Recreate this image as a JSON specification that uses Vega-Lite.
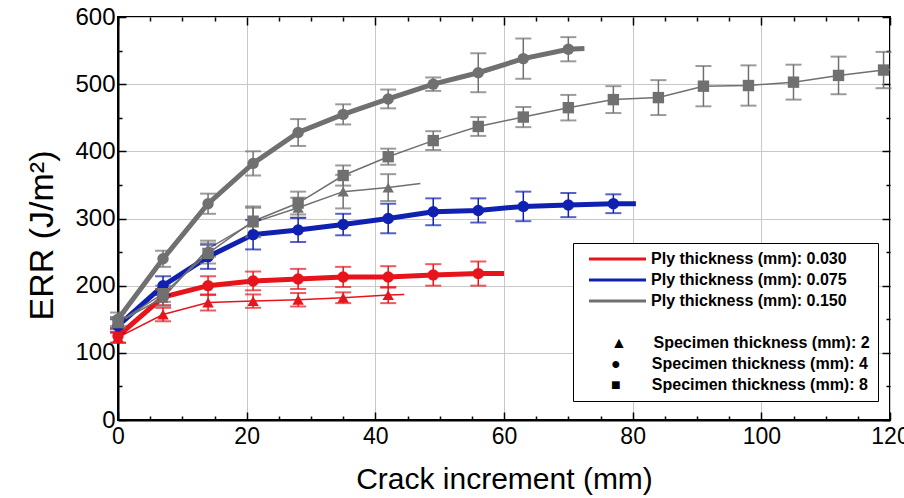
{
  "$schema": "https://vega.github.io/schema/vega-lite/v6.json",
  "width": 772,
  "height": 403,
  "autosize": {"type": "none"},
  "padding": {"left": 118, "top": 17, "right": 14, "bottom": 78},
  "background": "white",
  "config": {
    "view": {"stroke": "black", "strokeWidth": 2},
    "font": "Liberation Sans",
    "axis": {"gridColor": "#c8c8c8", "gridWidth": 1, "domainColor": "black", "domainWidth": 2, "tickColor": "black", "tickWidth": 1.5, "labelColor": "black", "titleColor": "black", "titleFontWeight": "normal", "labelFont": "Liberation Sans", "titleFont": "Liberation Sans"}
  },
  "data": {
    "values": [
      {"ply": "0.030", "spec": "4", "x": 0, "y": 125, "lo": 115, "hi": 135},
      {"ply": "0.030", "spec": "4", "x": 7, "y": 183, "lo": 171, "hi": 195},
      {"ply": "0.030", "spec": "4", "x": 14, "y": 200, "lo": 186, "hi": 214},
      {"ply": "0.030", "spec": "4", "x": 21, "y": 207, "lo": 193, "hi": 221},
      {"ply": "0.030", "spec": "4", "x": 28, "y": 210, "lo": 195, "hi": 225},
      {"ply": "0.030", "spec": "4", "x": 35, "y": 213, "lo": 198, "hi": 228},
      {"ply": "0.030", "spec": "4", "x": 42, "y": 213, "lo": 197, "hi": 229},
      {"ply": "0.030", "spec": "4", "x": 49, "y": 216, "lo": 200, "hi": 232},
      {"ply": "0.030", "spec": "4", "x": 56, "y": 218, "lo": 200, "hi": 236},
      {"ply": "0.030", "spec": "4", "x": 60, "y": 218, "lo": null, "hi": null},
      {"ply": "0.030", "spec": "2", "x": 0, "y": 123, "lo": 115, "hi": 131},
      {"ply": "0.030", "spec": "2", "x": 7, "y": 157, "lo": 147, "hi": 167},
      {"ply": "0.030", "spec": "2", "x": 14, "y": 175, "lo": 163, "hi": 187},
      {"ply": "0.030", "spec": "2", "x": 21, "y": 177, "lo": 167, "hi": 187},
      {"ply": "0.030", "spec": "2", "x": 28, "y": 179, "lo": 169, "hi": 189},
      {"ply": "0.030", "spec": "2", "x": 35, "y": 182, "lo": 174, "hi": 190},
      {"ply": "0.030", "spec": "2", "x": 42, "y": 186, "lo": 174, "hi": 198},
      {"ply": "0.030", "spec": "2", "x": 44.5, "y": 187, "lo": null, "hi": null},
      {"ply": "0.075", "spec": "4", "x": 0, "y": 140, "lo": 130, "hi": 150},
      {"ply": "0.075", "spec": "4", "x": 7, "y": 200, "lo": 186, "hi": 214},
      {"ply": "0.075", "spec": "4", "x": 14, "y": 243, "lo": 225, "hi": 261},
      {"ply": "0.075", "spec": "4", "x": 21, "y": 276, "lo": 254, "hi": 298},
      {"ply": "0.075", "spec": "4", "x": 28, "y": 283, "lo": 265, "hi": 301},
      {"ply": "0.075", "spec": "4", "x": 35, "y": 291, "lo": 275, "hi": 307},
      {"ply": "0.075", "spec": "4", "x": 42, "y": 300, "lo": 278, "hi": 322},
      {"ply": "0.075", "spec": "4", "x": 49, "y": 310, "lo": 290, "hi": 330},
      {"ply": "0.075", "spec": "4", "x": 56, "y": 312, "lo": 294, "hi": 330},
      {"ply": "0.075", "spec": "4", "x": 63, "y": 318, "lo": 296, "hi": 340},
      {"ply": "0.075", "spec": "4", "x": 70, "y": 320, "lo": 302, "hi": 338},
      {"ply": "0.075", "spec": "4", "x": 77, "y": 322, "lo": 308, "hi": 336},
      {"ply": "0.075", "spec": "4", "x": 80.5, "y": 322, "lo": null, "hi": null},
      {"ply": "0.150", "spec": "4", "x": 0, "y": 150, "lo": 140, "hi": 160},
      {"ply": "0.150", "spec": "4", "x": 7, "y": 240, "lo": 228, "hi": 252},
      {"ply": "0.150", "spec": "4", "x": 14, "y": 322, "lo": 307, "hi": 337},
      {"ply": "0.150", "spec": "4", "x": 21, "y": 382, "lo": 364, "hi": 400},
      {"ply": "0.150", "spec": "4", "x": 28, "y": 428, "lo": 408, "hi": 448},
      {"ply": "0.150", "spec": "4", "x": 35, "y": 455, "lo": 440, "hi": 470},
      {"ply": "0.150", "spec": "4", "x": 42, "y": 478, "lo": 464, "hi": 492},
      {"ply": "0.150", "spec": "4", "x": 49, "y": 500, "lo": 490, "hi": 510},
      {"ply": "0.150", "spec": "4", "x": 56, "y": 517, "lo": 488, "hi": 546},
      {"ply": "0.150", "spec": "4", "x": 63, "y": 538, "lo": 508, "hi": 568},
      {"ply": "0.150", "spec": "4", "x": 70, "y": 552, "lo": 534, "hi": 570},
      {"ply": "0.150", "spec": "4", "x": 72.5, "y": 553, "lo": null, "hi": null},
      {"ply": "0.150", "spec": "8", "x": 0, "y": 145, "lo": 137, "hi": 153},
      {"ply": "0.150", "spec": "8", "x": 7, "y": 188, "lo": 176, "hi": 200},
      {"ply": "0.150", "spec": "8", "x": 14, "y": 248, "lo": 233, "hi": 263},
      {"ply": "0.150", "spec": "8", "x": 21, "y": 296, "lo": 274, "hi": 318},
      {"ply": "0.150", "spec": "8", "x": 28, "y": 323, "lo": 306, "hi": 340},
      {"ply": "0.150", "spec": "8", "x": 35, "y": 364, "lo": 349, "hi": 379},
      {"ply": "0.150", "spec": "8", "x": 42, "y": 392, "lo": 380, "hi": 404},
      {"ply": "0.150", "spec": "8", "x": 49, "y": 416, "lo": 402, "hi": 430},
      {"ply": "0.150", "spec": "8", "x": 56, "y": 437, "lo": 423, "hi": 451},
      {"ply": "0.150", "spec": "8", "x": 63, "y": 451, "lo": 436, "hi": 466},
      {"ply": "0.150", "spec": "8", "x": 70, "y": 465, "lo": 446, "hi": 484},
      {"ply": "0.150", "spec": "8", "x": 77, "y": 477, "lo": 457, "hi": 497},
      {"ply": "0.150", "spec": "8", "x": 84, "y": 480, "lo": 454, "hi": 506},
      {"ply": "0.150", "spec": "8", "x": 91, "y": 497, "lo": 467, "hi": 527},
      {"ply": "0.150", "spec": "8", "x": 98, "y": 498, "lo": 468, "hi": 528},
      {"ply": "0.150", "spec": "8", "x": 105, "y": 503, "lo": 477, "hi": 529},
      {"ply": "0.150", "spec": "8", "x": 112, "y": 513, "lo": 485, "hi": 541},
      {"ply": "0.150", "spec": "8", "x": 119, "y": 521, "lo": 494, "hi": 548},
      {"ply": "0.150", "spec": "8", "x": 120, "y": 522, "lo": null, "hi": null},
      {"ply": "0.150", "spec": "2", "x": 0, "y": 145, "lo": 137, "hi": 153},
      {"ply": "0.150", "spec": "2", "x": 7, "y": 182, "lo": 170, "hi": 194},
      {"ply": "0.150", "spec": "2", "x": 14, "y": 255, "lo": 243, "hi": 267},
      {"ply": "0.150", "spec": "2", "x": 21, "y": 294, "lo": 272, "hi": 316},
      {"ply": "0.150", "spec": "2", "x": 28, "y": 316, "lo": 301, "hi": 331},
      {"ply": "0.150", "spec": "2", "x": 35, "y": 340, "lo": 315, "hi": 365},
      {"ply": "0.150", "spec": "2", "x": 42, "y": 346, "lo": 326, "hi": 366},
      {"ply": "0.150", "spec": "2", "x": 47, "y": 352, "lo": null, "hi": null}
    ]
  },
  "layer": [
    {
      "mark": {"type": "line", "clip": true},
      "encoding": {
        "x": {"field": "x", "type": "quantitative", "scale": {"domain": [0, 120], "nice": false},
          "axis": {"title": "Crack increment (mm)", "values": [0,5,10,15,20,25,30,35,40,45,50,55,60,65,70,75,80,85,90,95,100,105,110,115,120],
            "labelExpr": "datum.value % 20 == 0 ? datum.label : ''",
            "tickSize": {"condition": {"test": "datum.value % 20 == 0", "value": -8}, "value": -4},
            "gridOpacity": {"condition": {"test": "datum.value % 20 == 0", "value": 1}, "value": 0},
            "labelFontSize": 23, "titleFontSize": 30, "labelPadding": 13, "titlePadding": 12, "labelFlush": false, "labelOverlap": false}},
        "y": {"field": "y", "type": "quantitative", "scale": {"domain": [0, 600], "nice": false},
          "axis": {"title": "ERR (J/m²)", "values": [0,50,100,150,200,250,300,350,400,450,500,550,600],
            "labelExpr": "datum.value % 100 == 0 ? datum.label : ''",
            "tickSize": {"condition": {"test": "datum.value % 100 == 0", "value": -8}, "value": -4},
            "gridOpacity": {"condition": {"test": "datum.value % 100 == 0", "value": 1}, "value": 0},
            "labelFontSize": 24, "titleFontSize": 34, "titleY": 218, "labelPadding": 11, "titlePadding": 15, "labelFlush": false, "labelOverlap": false}},
        "color": {"field": "ply", "type": "nominal",
          "scale": {"domain": ["0.030", "0.075", "0.150", " ", "Specimen thickness (mm): 2", "Specimen thickness (mm): 4", "Specimen thickness (mm): 8"],
            "range": ["#e8141c", "#1020b0", "#707070", "transparent", "transparent", "transparent", "transparent"]},
          "legend": {"orient": "none", "legendX": 455, "legendY": 226, "title": null, "direction": "vertical",
            "symbolType": "M0,0H11.4", "symbolStrokeWidth": 3, "symbolSize": 100, "labelOffset": 14,
            "labelFont": "Liberation Sans", "labelFontSize": 16, "labelFontWeight": "bold", "labelColor": "black",
            "labelExpr": "length(datum.value) == 5 ? '\u200b\u00a0\u00a0\u00a0\u00a0\u00a0\u00a0\u00a0\u00a0\u00a0Ply thickness (mm): ' + datum.value : datum.value == 'Specimen thickness (mm): 2' ? '▲\u00a0\u00a0\u00a0\u00a0\u00a0\u00a0' + datum.value : datum.value == 'Specimen thickness (mm): 4' ? '●\u00a0\u00a0\u00a0\u00a0\u00a0\u00a0\u00a0' + datum.value : datum.value == 'Specimen thickness (mm): 8' ? '■\u00a0\u00a0\u00a0\u00a0\u00a0\u00a0\u00a0' + datum.value : datum.value",
            "labelLimit": 400, "rowPadding": 5, "padding": 8, "strokeColor": "black", "fillColor": "white"}},
        "detail": {"field": "spec"},
        "strokeWidth": {"field": "spec", "type": "nominal", "scale": {"type": "ordinal", "domain": ["2", "4", "8"], "range": [1.5, 5, 1.5]}, "legend": null}
      }
    },
    {
      "transform": [{"filter": "isValid(datum.lo)"}],
      "mark": {"type": "errorbar", "ticks": {"size": 16, "thickness": 2}, "thickness": 1.5},
      "encoding": {
        "x": {"field": "x", "type": "quantitative", "scale": {"domain": [0, 120], "nice": false},
          "axis": {"title": null, "labels": false, "domain": false, "ticks": true, "values": [0,5,10,15,20,25,30,35,40,45,50,55,60,65,70,75,80,85,90,95,100,105,110,115,120],
            "tickSize": {"condition": {"test": "datum.value % 20 == 0", "value": -8}, "value": -4}, "grid": false}},
        "y": {"field": "lo", "type": "quantitative", "scale": {"domain": [0, 600], "nice": false},
          "axis": {"title": null, "labels": false, "domain": false, "ticks": true, "values": [0,50,100,150,200,250,300,350,400,450,500,550,600],
            "tickSize": {"condition": {"test": "datum.value % 100 == 0", "value": -8}, "value": -4}, "grid": false}},
        "y2": {"field": "hi"},
        "color": {"field": "ply", "type": "nominal", "legend": null},
        "detail": {"field": "spec"}
      }
    },
    {
      "transform": [{"filter": "isValid(datum.lo)"}],
      "mark": {"type": "point", "filled": true, "opacity": 1, "size": 130},
      "encoding": {
        "x": {"field": "x", "type": "quantitative", "scale": {"domain": [0, 120], "nice": false}, "axis": null},
        "y": {"field": "y", "type": "quantitative", "scale": {"domain": [0, 600], "nice": false}, "axis": null},
        "color": {"field": "ply", "type": "nominal", "legend": null},
        "shape": {"field": "spec", "type": "nominal",
          "scale": {"domain": ["2", "4", "8"], "range": ["triangle-up", "circle", "square"]},
          "legend": null}
      }
    }
  ],
  "resolve": {"scale": {"x": "independent", "y": "independent"}, "axis": {"x": "independent", "y": "independent"}}
}
